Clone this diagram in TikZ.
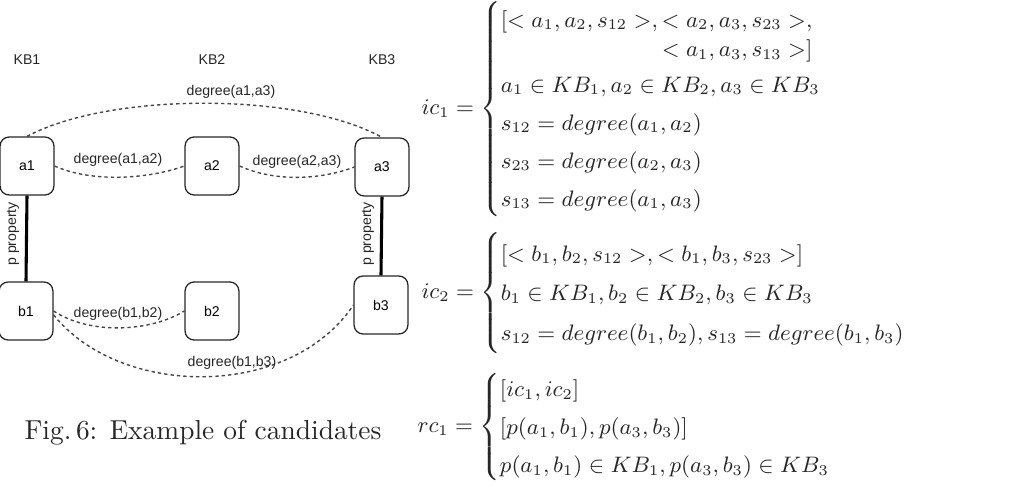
\documentclass[tikz,border=0pt]{standalone}
\usepackage{amsmath}
\usepackage{fontspec}
\newfontfamily\lsans{Liberation Sans}
\newcommand\mycases[2]{\left\{\def\arraystretch{#1}\begin{array}{@{}l@{}}#2\end{array}\right.}
\begin{document}
\begin{tikzpicture}[x=0.39pt,y=-0.39pt,
  box/.style={draw=black!85,rounded corners=3.5pt,minimum width=21pt,minimum height=22.6pt,inner sep=0pt,font=\lsans\fontsize{5.5}{6}\selectfont,line width=0.5pt},
  lbl/.style={font=\lsans\fontsize{5.5}{6}\selectfont,inner sep=0.5pt,text=black!85},
  deg/.style={dash pattern=on 1.3pt off 1.2pt,line width=0.55pt,draw=black!72},
  prop/.style={line width=1.2pt,draw=black},
  eq/.style={anchor=west,inner sep=0pt,text=black!85,font=\fontsize{9}{11}\selectfont}]
\useasboundingbox (0,0) rectangle (1025,486);
% knowledge base labels
\node[lbl] (kb1) at (27,60) {KB1};
\node[lbl] (kb2) at (212,60) {KB2};
\node[lbl] (kb3) at (382,60) {KB3};
% entities
\node[box] (a1) at (27,166) {a1};
\node[box] (a2) at (212,166) {a2};
\node[box] (a3) at (382,167) {a3};
\node[box] (b1) at (26,311) {b1};
\node[box] (b2) at (212,311) {b2};
\node[box] (b3) at (381,305) {b3};
% property links
\draw[prop] (a1.south) -- (b1.north);
\draw[prop] (a3.south) -- (b3.north);
\node[lbl,rotate=90] (pp1) at (13,234) {p property};
\node[lbl,rotate=90] (pp3) at (368,234) {p property};
% degree links
\draw[deg] (a1.north) .. controls (110,92) and (300,92) .. (a3.north);
\draw[deg] (a1.east) .. controls (90,182) and (145,180) .. (a2.west);
\draw[deg] (a2.east) .. controls (275,182) and (320,180) .. (a3.west);
\draw[deg] (b1.east) .. controls (90,335) and (150,332) .. (b2.west);
\draw[deg] ([yshift=-1.5pt]b1.east) .. controls (120,398) and (290,400) .. (b3.west);
\node[lbl] (d13) at (231,92) {degree(a1,a3)};
\node[lbl] (d12) at (118,160) {degree(a1,a2)};
\node[lbl] (d23) at (297,162) {degree(a2,a3)};
\node[lbl] (e12) at (118,314) {degree(b1,b2)};
\node[lbl] (e13) at (232,363) {degree(b1,b3)};
% caption
\node[inner sep=0pt,text=black!85,font=\fontsize{10.7}{13}\selectfont] (cap) at (203,433) {Fig.\,6: Example of candidates};
% formulas
\node[eq] (ic1) at (421,109) {\scalebox{0.97}{$\displaystyle ic_1 = \mycases{1.39}{
 {\def\arraystretch{1.08}\begin{array}[t]{@{}r@{}}[<a_1,a_2,s_{12}>,<a_2,a_3,s_{23}>,\\ <a_1,a_3,s_{13}>]\end{array}}\\
 a_1\in KB_1, a_2\in KB_2, a_3\in KB_3\\
 s_{12}=degree(a_1,a_2)\\
 s_{23}=degree(a_2,a_3)\\
 s_{13}=degree(a_1,a_3)}$}};
\node[eq] (ic2) at (421,293) {\scalebox{0.97}{$\displaystyle ic_2 = \mycases{1.46}{
 [<b_1,b_2,s_{12}>,<b_1,b_3,s_{23}>]\\
 b_1\in KB_1, b_2\in KB_2, b_3\in KB_3\\
 s_{12}=degree(b_1,b_2), s_{13}=degree(b_1,b_3)}$}};
\node[eq] (rc1) at (417,427) {\scalebox{0.97}{$\displaystyle rc_1 = \mycases{1.39}{
 [ic_1,ic_2]\\ \relax
 [p(a_1,b_1),p(a_3,b_3)]\\
 p(a_1,b_1)\in KB_1, p(a_3,b_3)\in KB_3}$}};
\end{tikzpicture}
\end{document}
